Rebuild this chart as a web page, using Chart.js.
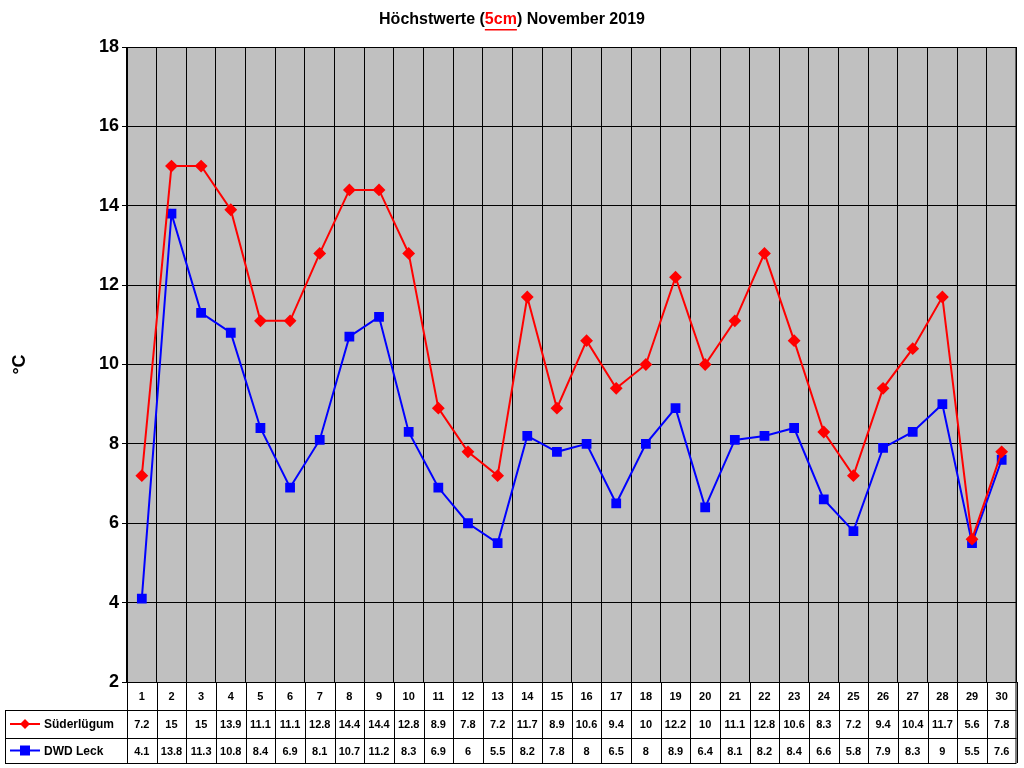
<!DOCTYPE html>
<html>
<head>
<meta charset="utf-8">
<script src="https://cdn.jsdelivr.net/npm/chart.js@4"></script>
<style>
  body { margin: 0; background: #fff; }
  #wrap { width: 1024px; height: 768px; }
</style>
</head>
<body>
<div id="wrap"><canvas id="chart" width="1024" height="768"></canvas></div>
<script>
// Daten
const tage = ["1","2","3","4","5","6","7","8","9","10","11","12","13","14","15","16","17","18","19","20","21","22","23","24","25","26","27","28","29","30"];
const suederluegum = [7.2,15,15,13.9,11.1,11.1,12.8,14.4,14.4,12.8,8.9,7.8,7.2,11.7,8.9,10.6,9.4,10,12.2,10,11.1,12.8,10.6,8.3,7.2,9.4,10.4,11.7,5.6,7.8];
const dwdLeck = [4.1,13.8,11.3,10.8,8.4,6.9,8.1,10.7,11.2,8.3,6.9,6,5.5,8.2,7.8,8,6.5,8,8.9,6.4,8.1,8.2,8.4,6.6,5.8,7.9,8.3,9,5.5,7.6];

const ROT = "#ff0000";
const BLAU = "#0000ff";

// Hintergrund, Titel und Datentabelle
const extras = {
  id: "extras",
  beforeDraw(chart) {
    const { ctx, chartArea: a } = chart;
    ctx.save();
    ctx.fillStyle = "#c0c0c0";
    ctx.fillRect(a.left, a.top, a.right - a.left, a.bottom - a.top);
    ctx.restore();
  },
  afterDraw(chart) {
    const { ctx, chartArea: a } = chart;
    const x = chart.scales.x;
    ctx.save();
    // Titel
    ctx.font = "bold 16px Arial, 'Liberation Sans'";
    ctx.textBaseline = "middle";
    const t1 = "Höchstwerte (", t2 = "5cm", t3 = ") November 2019";
    const w1 = ctx.measureText(t1).width, w2 = ctx.measureText(t2).width, w3 = ctx.measureText(t3).width;
    let sx = 512 - (w1 + w2 + w3) / 2;
    const ty = 20;
    ctx.fillStyle = "#000"; ctx.fillText(t1, sx, ty);
    ctx.fillStyle = ROT; ctx.fillText(t2, sx + w1, ty);
    ctx.fillRect(sx + w1, ty + 9, w2, 1.5);
    ctx.fillStyle = "#000"; ctx.fillText(t3, sx + w1 + w2, ty);

    // Rahmen Plotbereich
    ctx.strokeStyle = "#000"; ctx.lineWidth = 1;
    ctx.strokeRect(a.left + 0.5, a.top + 0.5, a.right - a.left - 1, a.bottom - a.top);

    // Tabelle
    const rows = [a.bottom, 710, 738, 763];
    const left = 5;
    const step = (a.right - a.left) / tage.length;
    ctx.beginPath();
    for (const r of rows.slice(1)) { ctx.moveTo(left, r + 0.5); ctx.lineTo(a.right, r + 0.5); }
    ctx.moveTo(left + 0.5, rows[1]); ctx.lineTo(left + 0.5, rows[3]);
    for (let i = 0; i <= tage.length; i++) {
      const gx = Math.round(a.left + i * step) + 0.5;
      ctx.moveTo(gx, rows[0]); ctx.lineTo(gx, rows[3]);
    }
    ctx.moveTo(a.right - 0.5, rows[0]); ctx.lineTo(a.right - 0.5, rows[3]);
    ctx.stroke();

    ctx.font = "bold 11px Arial, 'Liberation Sans'";
    ctx.textAlign = "center";
    ctx.fillStyle = "#000";
    const rowData = [tage, suederluegum, dwdLeck];
    rowData.forEach((arr, r) => {
      const cy = (rows[r] + rows[r + 1]) / 2 + 1;
      arr.forEach((v, i) => ctx.fillText(String(v), x.getPixelForValue(i), cy));
    });

    // Legende in der Tabelle
    const legend = [["Süderlügum", ROT, "rectRot"], ["DWD Leck", BLAU, "rect"]];
    legend.forEach(([name, col, shape], k) => {
      const cy = (rows[k + 1] + rows[k + 2]) / 2;
      ctx.strokeStyle = col; ctx.lineWidth = 2;
      ctx.beginPath(); ctx.moveTo(10, cy); ctx.lineTo(40, cy); ctx.stroke();
      ctx.fillStyle = col;
      if (shape === "rect") ctx.fillRect(20, cy - 5, 10, 10);
      else { ctx.beginPath(); ctx.moveTo(25, cy - 5); ctx.lineTo(30, cy); ctx.lineTo(25, cy + 5); ctx.lineTo(20, cy); ctx.fill(); }
      ctx.fillStyle = "#000"; ctx.textAlign = "left";
      ctx.font = "bold 12px Arial, 'Liberation Sans'";
      ctx.fillText(name, 44, cy + 1);
    });
    ctx.restore();
  }
};

new Chart(document.getElementById("chart"), {
  type: "line",
  data: {
    labels: tage,
    datasets: [
      { label: "Süderlügum", data: suederluegum, borderColor: ROT, backgroundColor: ROT, borderWidth: 2,
        pointStyle: "rectRot", pointRadius: 5, pointHoverRadius: 5, tension: 0 },
      { label: "DWD Leck", data: dwdLeck, borderColor: BLAU, backgroundColor: BLAU, borderWidth: 2,
        pointStyle: "rect", pointRadius: 5.5, pointHoverRadius: 5.5, tension: 0 }
    ]
  },
  options: {
    responsive: false,
    animation: false,
    events: [],
    layout: { padding: { top: 47, right: 3, bottom: 86, left: 5 } },
    plugins: { legend: { display: false }, title: { display: false }, tooltip: { enabled: false } },
    scales: {
      x: {
        offset: true,
        grid: { offset: true, color: "#000", drawTicks: false },
        border: { display: false },
        ticks: { display: false }
      },
      y: {
        min: 2, max: 18,
        afterFit(s) { s.width = 122; },
        ticks: { stepSize: 2, color: "#000", font: { family: "Arial, 'Liberation Sans'", size: 18, weight: "bold" } },
        grid: { color: "#000", drawTicks: true, tickLength: 5 },
        border: { color: "#000" },
        title: { display: true, text: "°C", color: "#000", font: { family: "Arial, 'Liberation Sans'", size: 18, weight: "bold" } }
      }
    }
  },
  plugins: [extras]
});
</script>
</body>
</html>
